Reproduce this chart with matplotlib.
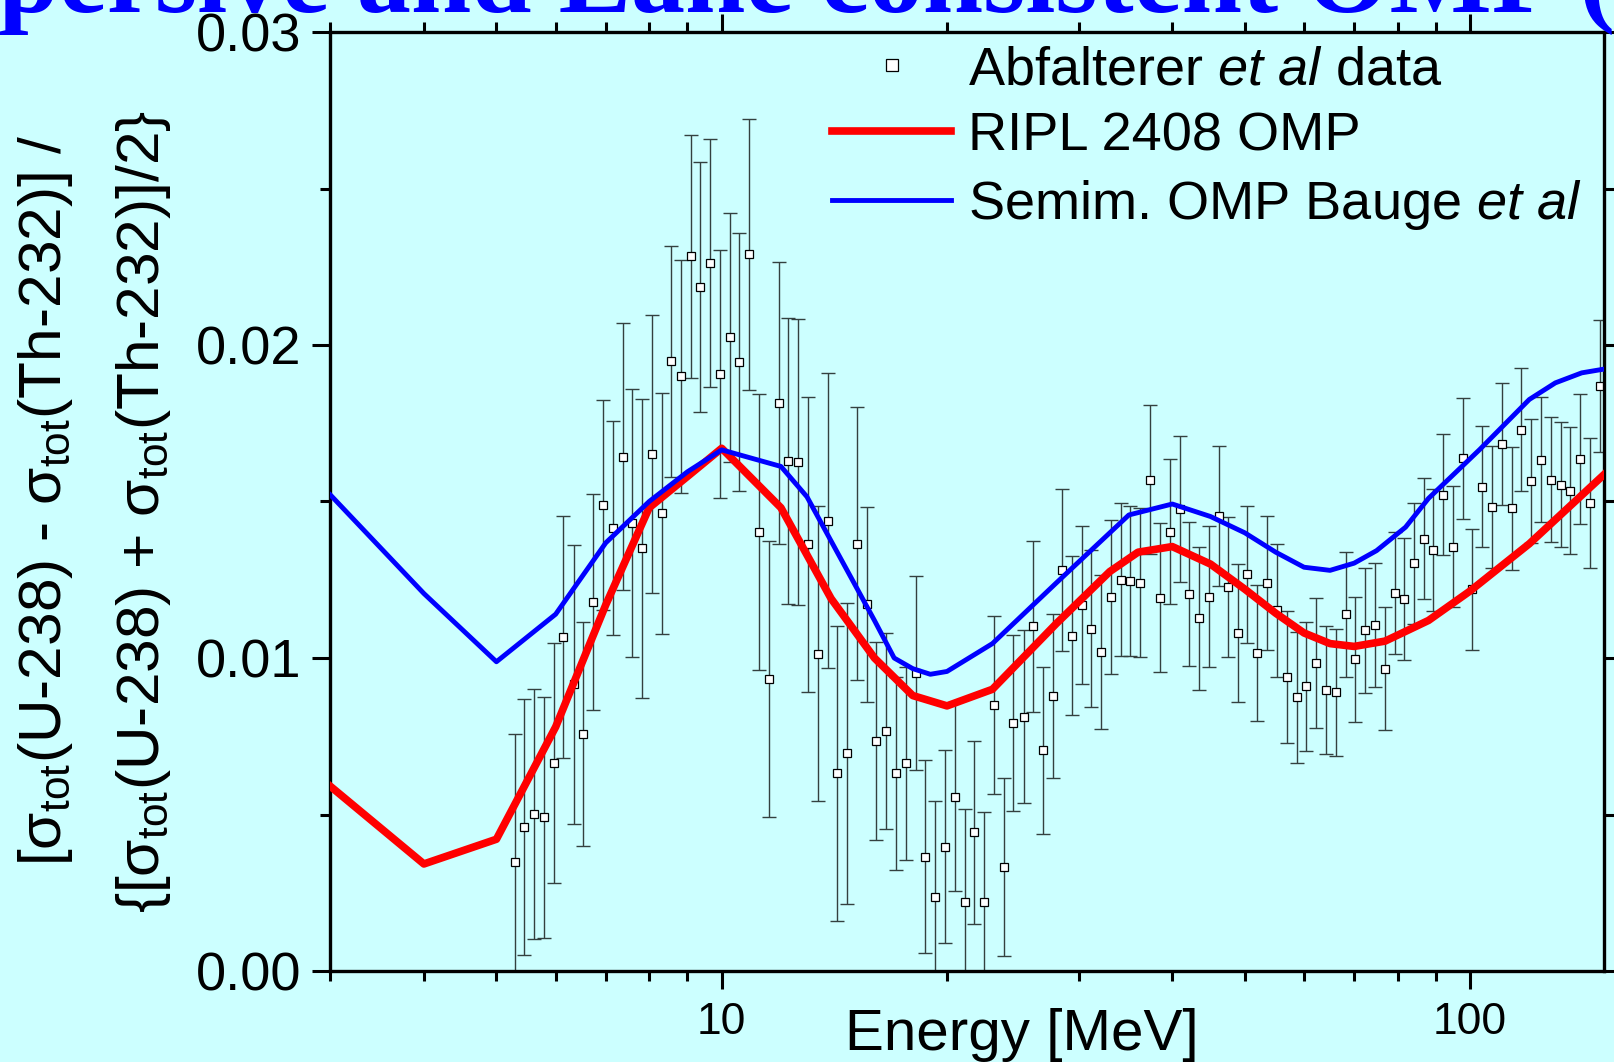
# u238_th232_ratio.py
# relative difference of U-238 and Th-232 total cross sections vs neutron energy
import matplotlib.pyplot as plt
from matplotlib.ticker import FixedLocator, NullFormatter, MultipleLocator, FormatStrFormatter

# Abfalterer et al data: energy (MeV), ratio and its error
energy = [5.29, 5.45, 5.62, 5.79, 5.96, 6.14, 6.34, 6.53, 6.73, 6.93, 7.15, 7.37,
          7.59, 7.82, 8.06, 8.31, 8.56, 8.81, 9.09, 9.36, 9.65, 9.96, 10.26, 10.56,
          10.88, 11.23, 11.58, 11.92, 12.28, 12.66, 13.06, 13.44, 13.86, 14.26, 14.71,
          15.15, 15.63, 16.10, 16.59, 17.09, 17.62, 18.16, 18.70, 19.27, 19.87, 20.47,
          21.11, 21.76, 22.42, 23.10, 23.82, 24.54, 25.31, 26.08, 26.86, 27.68, 28.48,
          29.35, 30.26, 31.18, 32.12, 33.12, 34.12, 35.15, 36.21, 37.38, 38.51, 39.67,
          40.92, 42.16, 43.47, 44.78, 46.13, 47.53, 48.96, 50.39, 51.97, 53.60, 55.21,
          56.88, 58.66, 60.42, 62.25, 64.19, 66.13, 68.20, 70.26, 72.38, 74.65, 76.99,
          79.31, 81.70, 84.17, 86.71, 89.33, 92.13, 95.00, 97.77, 100.7, 103.9, 107.0,
          110.2, 113.6, 117.1, 120.8, 124.4, 128.2, 132.1, 136.2, 140.4, 144.5, 149.1]
ratio = [0.00349, 0.00459, 0.00502, 0.00491, 0.00665, 0.01067, 0.00916, 0.00757,
         0.01179, 0.01489, 0.01416, 0.01643, 0.01430, 0.01351, 0.01652, 0.01462,
         0.01948, 0.01900, 0.02283, 0.02185, 0.02263, 0.01907, 0.02024, 0.01946,
         0.02290, 0.01402, 0.00932, 0.01815, 0.01629, 0.01625, 0.01363, 0.01014,
         0.01439, 0.00631, 0.00695, 0.01365, 0.01172, 0.00735, 0.00767, 0.00631,
         0.00663, 0.00952, 0.00365, 0.00236, 0.00397, 0.00557, 0.00220, 0.00443,
         0.00220, 0.00849, 0.00333, 0.00792, 0.00813, 0.01101, 0.00705, 0.00879,
         0.01281, 0.01071, 0.01170, 0.01094, 0.01019, 0.01196, 0.01250, 0.01246,
         0.01241, 0.01569, 0.01193, 0.01404, 0.01476, 0.01204, 0.01127, 0.01196,
         0.01453, 0.01227, 0.01079, 0.01267, 0.01016, 0.01239, 0.01152, 0.00939,
         0.00874, 0.00909, 0.00984, 0.00897, 0.00891, 0.01140, 0.00996, 0.01088,
         0.01104, 0.00966, 0.01209, 0.01189, 0.01303, 0.01381, 0.01345, 0.01522,
         0.01356, 0.01638, 0.01219, 0.01547, 0.01482, 0.01684, 0.01478, 0.01730,
         0.01565, 0.01634, 0.01570, 0.01554, 0.01535, 0.01636, 0.01496, 0.01868]
ratio_err = [0.00409, 0.00409, 0.00400, 0.00384, 0.00384, 0.00386, 0.00446, 0.00358,
             0.00344, 0.00336, 0.00341, 0.00427, 0.00428, 0.00478, 0.00445, 0.00386,
             0.00369, 0.00373, 0.00389, 0.00400, 0.00396, 0.00397, 0.00397, 0.00411,
             0.00433, 0.00440, 0.00441, 0.00450, 0.00458, 0.00457, 0.00472, 0.00472,
             0.00470, 0.00471, 0.00480, 0.00436, 0.00312, 0.00316, 0.00312, 0.00309,
             0.00309, 0.00311, 0.00308, 0.00308, 0.00308, 0.00302, 0.00296, 0.00293,
             0.00287, 0.00284, 0.00285, 0.00280, 0.00277, 0.00273, 0.00267, 0.00263,
             0.00259, 0.00254, 0.00253, 0.00251, 0.00247, 0.00246, 0.00244, 0.00240,
             0.00239, 0.00238, 0.00237, 0.00233, 0.00234, 0.00230, 0.00228, 0.00226,
             0.00224, 0.00223, 0.00221, 0.00218, 0.00216, 0.00214, 0.00213, 0.00211,
             0.00209, 0.00207, 0.00207, 0.00205, 0.00203, 0.00200, 0.00199, 0.00199,
             0.00198, 0.00197, 0.00195, 0.00195, 0.00193, 0.00193, 0.00194, 0.00194,
             0.00192, 0.00193, 0.00194, 0.00193, 0.00194, 0.00195, 0.00196, 0.00196,
             0.00197, 0.00199, 0.00199, 0.00200, 0.00204, 0.00207, 0.00208, 0.00211]

# RIPL 2408 OMP calculation
ripl_energy = [3, 4, 5, 6, 7, 8, 9, 10, 12, 14, 16, 18, 20, 23, 28, 33, 36, 40, 45,
               50, 55, 60, 65, 70, 77, 82, 88, 100, 120, 151]
ripl_ratio = [0.0059, 0.00342, 0.00421, 0.0078, 0.0117, 0.0148, 0.0158, 0.0167,
              0.0148, 0.0119, 0.0100, 0.0088, 0.00847, 0.0090, 0.0111, 0.01276,
              0.01338, 0.01356, 0.0130, 0.0122, 0.01143, 0.0108, 0.01046, 0.01037,
              0.01054, 0.01085, 0.0112, 0.01214, 0.01365, 0.01586]

# semimicroscopic OMP of Bauge et al
bauge_energy = [3, 4, 5, 6, 7, 8, 9, 10, 12, 13, 16, 17, 18, 19, 20, 23, 28, 35, 40,
                45, 50, 55, 60, 65, 70, 75, 82, 88, 103, 120, 130, 141, 151]
bauge_ratio = [0.01521, 0.01206, 0.00988, 0.0114, 0.01368, 0.0150, 0.01595, 0.01665,
               0.01612, 0.01515, 0.0112, 0.0100, 0.00966, 0.00948, 0.00957, 0.01046,
               0.0124, 0.01457, 0.01492, 0.01452, 0.0140, 0.01338, 0.0129, 0.0128,
               0.01303, 0.01343, 0.01418, 0.0151, 0.01666, 0.01826, 0.01879, 0.01911,
               0.01923]

plt.rcParams["font.family"] = ["Liberation Sans", "DejaVu Sans"]
plt.rcParams["mathtext.fontset"] = "custom"
plt.rcParams["mathtext.rm"] = "Liberation Sans"
plt.rcParams["mathtext.it"] = "Liberation Sans:italic"

bg = "#CCFFFF"
fig = plt.figure(figsize=(16.15, 10.62), dpi=100, facecolor=bg)
ax = fig.add_axes([330.4 / 1615, 1 - 971 / 1062, 1273.6 / 1615, 939 / 1062])
ax.set_facecolor(bg)

ax.errorbar(energy, ratio, yerr=ratio_err, fmt="none", ecolor="#33403f",
            elinewidth=1.0, capsize=5, capthick=1.0, zorder=2)
ax.plot(energy, ratio, "s", ms=6, mfc="white", mec="black", mew=0.9,
        label=r"Abfalterer $\mathit{et\ al}$ data", zorder=2.5)
ax.plot(ripl_energy, ripl_ratio, color="#FF0000", lw=5.5, label="RIPL 2408 OMP", zorder=3)
ax.plot(bauge_energy, bauge_ratio, color="#0000FF", lw=3.5,
        label=r"Semim. OMP Bauge $\mathit{et\ al}$", zorder=3.1)

ax.set_xscale("log")
ax.set_xlim(3, 151)
ax.set_ylim(0, 0.03)
ax.xaxis.set_major_locator(FixedLocator([10, 100]))
ax.xaxis.set_major_formatter(FormatStrFormatter("%d"))
ax.xaxis.set_minor_locator(FixedLocator([3, 4, 5, 6, 7, 8, 9, 20, 30, 40, 50, 60, 70, 80, 90]))
ax.xaxis.set_minor_formatter(NullFormatter())
ax.yaxis.set_major_locator(MultipleLocator(0.01))
ax.yaxis.set_minor_locator(MultipleLocator(0.005))
ax.yaxis.set_major_formatter(FormatStrFormatter("%.2f"))

for side in ax.spines.values():
    side.set_linewidth(2.4)
ax.tick_params(which="both", direction="out", top=True, right=True, width=2.2)
ax.tick_params(which="major", length=13)
ax.tick_params(which="minor", length=7)
ax.tick_params(axis="x", which="major", labelsize=32, pad=9)
ax.tick_params(axis="y", which="major", labelsize=39, pad=8)

ax.legend(loc="upper left", bbox_to_anchor=(0.3938, 0.986), frameon=False,
          fontsize=39, borderpad=0, borderaxespad=0, handlelength=2.2,
          handletextpad=0.32, labelspacing=0.3, numpoints=1, markerscale=1.4)

fig.text(1022 / 1615, 1 - 1050 / 1062, "Energy [MeV]", fontsize=42,
         ha="center", va="baseline")
fig.text(46 / 1615, 0.529, r"[σ$_{\mathrm{tot}}$(U-238) - σ$_{\mathrm{tot}}$(Th-232)] /",
         fontsize=43.5, rotation=90, ha="center", va="center")
fig.text(144 / 1615, 0.518, r"{[σ$_{\mathrm{tot}}$(U-238) + σ$_{\mathrm{tot}}$(Th-232)]/2}",
         fontsize=43.5, rotation=90, ha="center", va="center")

# slide title, mostly cut off at the top edge
fig.text(-0.094, 1 - 12 / 1062, "Dispersive and Lane consistent OMP (", fontsize=78,
         family="Liberation Serif", fontweight="bold", color="#0000FF", va="baseline")

fig.savefig("out.png", dpi=100, facecolor=bg)
